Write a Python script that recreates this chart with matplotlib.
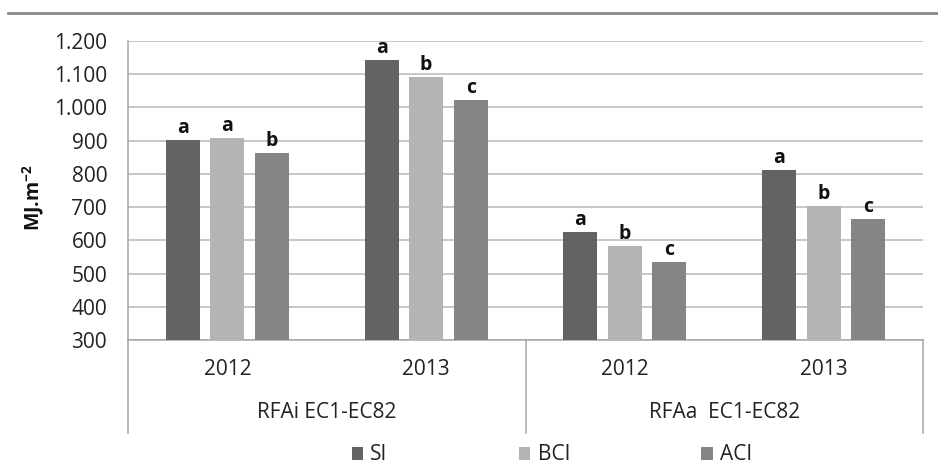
import numpy as np
import matplotlib
matplotlib.use('Agg')
import matplotlib.pyplot as plt
from matplotlib.lines import Line2D
from matplotlib.ticker import FuncFormatter

plt.rcParams['font.family'] = ['Open Sans', 'DejaVu Sans']

# data
groups = ['RFAi EC1-EC82', 'RFAa  EC1-EC82']
years = ['2012', '2013', '2012', '2013']
series = ['SI', 'BCI', 'ACI']
si_vals = [903, 1143, 626, 811]
bci_vals = [907, 1092, 584, 702]
aci_vals = [862, 1022, 535, 665]
si_letters = ['a', 'a', 'a', 'a']
bci_letters = ['a', 'b', 'b', 'b']
aci_letters = ['b', 'c', 'c', 'c']

colors = ['#636363', '#b4b4b4', '#858585']
grid_col = '#b8b8b8'
axis_col = '#a6a6a6'
txt_col = '#222222'

fig = plt.figure(figsize=(9.38, 4.66), dpi=100)
ax = fig.add_axes([128/938, 1-340/466, 795/938, 299/466])

x = np.arange(len(years))
w = 0.171
step = 0.224
for k, (vals, letters) in enumerate(zip([si_vals, bci_vals, aci_vals],
                                        [si_letters, bci_letters, aci_letters])):
    xs = x + (k-1)*step
    ax.bar(xs, vals, width=w, color=colors[k], label=series[k], zorder=3)
    for xi, v, l in zip(xs, vals, letters):
        ax.annotate(l, (xi, v), xytext=(0, 1.5), textcoords='offset points',
                    ha='center', va='bottom', fontsize=14, fontweight='bold',
                    color='#111111')

ax.set_ylim(300, 1200)
ax.set_xlim(-0.5, 3.5)
ax.set_yticks(np.arange(300, 1201, 100))
ax.yaxis.set_major_formatter(FuncFormatter(lambda v, p: f'{v:,.0f}'.replace(',', '.')))
ax.tick_params(axis='y', length=0, pad=15, labelsize=15, labelcolor=txt_col)
ax.set_xticks([])
ax.yaxis.grid(True, color=grid_col, linewidth=1.1, zorder=0)
ax.set_axisbelow(True)
for s in ['top', 'right']:
    ax.spines[s].set_visible(False)
for s in ['left', 'bottom']:
    ax.spines[s].set_color(axis_col)
    ax.spines[s].set_linewidth(1.1)

ax.set_ylabel('MJ.m$^{\\mathregular{-2}}$', fontsize=14, fontweight='bold',
              color='#111111')
ax.yaxis.set_label_coords(-0.103, 0.475)

# multi-level category axis
tr = ax.get_xaxis_transform()
for xv in [-0.5, 1.5, 3.5]:
    ax.plot([xv, xv], [0, -0.311], transform=tr, color=axis_col,
            linewidth=1.1, clip_on=False)
for xi, yr in zip(x, years):
    ax.text(xi, -0.10, yr, transform=tr, ha='center', va='center',
            fontsize=15, color=txt_col)
for gi, g in enumerate(groups):
    ax.text(0.5 + 2*gi, -0.241, g, transform=tr, ha='center', va='center',
            fontsize=15, color=txt_col)

fig.legend(loc='center', bbox_to_anchor=(552/938, 1-455/466), ncol=3,
           frameon=False, fontsize=15, handlelength=0.55, handleheight=0.6,
           handletextpad=0.35, columnspacing=6.3, labelcolor=txt_col)

# grey rule at the top of the page
fig.add_artist(Line2D([8/938, 1], [1-13/466, 1-13/466], color='#8a8a8a',
                      linewidth=2))

fig.savefig('out.png', dpi=100)
